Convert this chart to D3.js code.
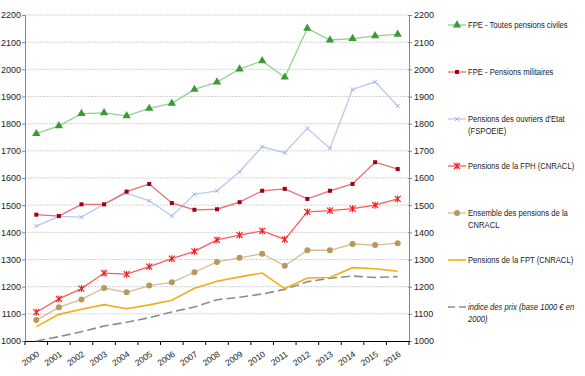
<!DOCTYPE html>
<html>
<head>
<meta charset="utf-8">
<script src="https://cdn.jsdelivr.net/npm/d3@7"></script>
<style>
  body { margin: 0; background: #fff; }
  svg { display: block; }
  text { font-family: "Liberation Sans", Arial, sans-serif; fill: #222; }
</style>
</head>
<body>
<svg width="585" height="376"></svg>
<script>
var years = ["2000","2001","2002","2003","2004","2005","2006","2007","2008",
             "2009","2010","2011","2012","2013","2014","2015","2016"];
var yTicks = [1000,1100,1200,1300,1400,1500,1600,1700,1800,1900,2000,2100,2200];

var fpeCiviles   = [1763,1792,1837,1840,1829,1856,1875,1926,1953,2001,2031,1971,2151,2108,2113,2123,2129];
var fpeMilitaires= [1465,1460,1503,1503,1550,1578,1508,1483,1485,1511,1553,1560,1523,1553,1578,1658,1633];
var ouvriers     = [1423,1459,1456,1504,1544,1516,1460,1540,1553,1623,1715,1693,1783,1709,1926,1954,1865];
var fph          = [1106,1155,1193,1250,1246,1274,1303,1330,1372,1390,1405,1374,1475,1480,1487,1500,1523];
var cnracl       = [1077,1124,1153,1195,1179,1204,1216,1253,1291,1306,1321,1277,1334,1334,1357,1353,1360];
var fpt          = [1053,1098,1117,1134,1119,1133,1150,1194,1220,1236,1250,1193,1232,1234,1270,1266,1257];
var indicePrix   = [1000,1016,1034,1055,1069,1086,1107,1125,1152,1161,1173,1190,1218,1231,1239,1234,1237];

var series = [
  {name: ["FPE - Toutes pensions civiles"], values: fpeCiviles, line: "#8fd48a", mark: "#3c9a34", marker: "triangle", ly: 25},
  {name: ["FPE - Pensions militaires"], values: fpeMilitaires, line: "#e0707a", mark: "#a00010", marker: "square", ly: 72},
  {name: ["Pensions des ouvriers d'Etat", "(FSPOEIE)"], values: ouvriers, line: "#b8c8f2", mark: "#9fb4ea", marker: "cross", ly: 119},
  {name: ["Pensions de la FPH (CNRACL)"], values: fph, line: "#ff5c5c", mark: "#f01818", marker: "star", ly: 166},
  {name: ["Ensemble des pensions de la", "CNRACL"], values: cnracl, line: "#d4bc98", mark: "#b8985c", marker: "circle", ly: 213},
  {name: ["Pensions de la FPT (CNRACL)"], values: fpt, line: "#f2ac1a", mark: null, marker: null, ly: 260},
  {name: ["indice des prix (base 1000 \u20ac en", "2000)"], values: indicePrix, line: "#8c8c8c", mark: null, marker: null, ly: 307, dash: "9,4", italic: true}
];

var svg = d3.select("svg");
var plotLeft = 25, plotRight = 409, plotTop = 15, plotBottom = 341;

var x = d3.scaleBand().domain(years).range([plotLeft, plotRight]);
var y = d3.scaleLinear().domain([1000, 2200]).range([plotBottom, plotTop]);
var cx = function(i) { return x(years[i]) + x.bandwidth() / 2; };

// grid
svg.append("g").selectAll("line")
  .data(yTicks.slice(1))
  .enter().append("line")
  .attr("x1", plotLeft).attr("x2", plotRight)
  .attr("y1", function(d) { return y(d); }).attr("y2", function(d) { return y(d); })
  .attr("stroke", "#d2d2d2").attr("stroke-width", 1).attr("stroke-dasharray", "2,1");

// left axis
var yl = svg.append("g").attr("transform", "translate(" + plotLeft + ",0)")
  .call(d3.axisLeft(y).tickValues(yTicks).tickSize(3).tickFormat(d3.format("d")));
yl.select(".domain").attr("stroke", "#888");
yl.selectAll(".tick line").attr("stroke", "#888");
yl.selectAll("text").attr("font-size", 9).attr("x", -4).attr("fill", "#222");

// right axis
var yr = svg.append("g").attr("transform", "translate(" + plotRight + ",0)")
  .call(d3.axisRight(y).tickValues(yTicks).tickSize(3).tickFormat(d3.format("d")));
yr.select(".domain").attr("stroke", "#888");
yr.selectAll(".tick line").attr("stroke", "#888").attr("x1", -1);
yr.selectAll("text").attr("font-size", 9).attr("x", 5).attr("fill", "#222");

// x axis
var xa = svg.append("g").attr("transform", "translate(0," + plotBottom + ")")
  .call(d3.axisBottom(x).tickSize(0).tickSizeOuter(0));
xa.select(".domain").attr("stroke", "#000").attr("stroke-width", 1.2);
xa.selectAll("text").attr("font-size", 8.5).attr("fill", "#222")
  .attr("text-anchor", "end")
  .attr("transform", "translate(2,12) rotate(-35)")
  .attr("dy", "0.35em").attr("y", 0);
// ticks at band boundaries
xa.selectAll(".sep").data(years.concat(["end"]))
  .enter().append("line").attr("class", "sep")
  .attr("x1", function(d, i) { return plotLeft + i * x.step(); })
  .attr("x2", function(d, i) { return plotLeft + i * x.step(); })
  .attr("y1", 0).attr("y2", 4).attr("stroke", "#000");

var lineGen = d3.line().x(function(d, i) { return cx(i); }).y(function(d) { return y(d); });

function drawMarker(g, type, color, px, py) {
  if (type === "triangle") {
    g.append("path").attr("d", d3.symbol().type(d3.symbolTriangle).size(30)())
      .attr("transform", "translate(" + px + "," + py + ")").attr("fill", color);
  } else if (type === "square") {
    g.append("rect").attr("x", px - 2).attr("y", py - 2).attr("width", 4).attr("height", 4).attr("fill", color);
  } else if (type === "circle") {
    g.append("circle").attr("cx", px).attr("cy", py).attr("r", 3).attr("fill", color);
  } else if (type === "cross") {
    g.append("path").attr("d", "M-2,-2L2,2M-2,2L2,-2")
      .attr("transform", "translate(" + px + "," + py + ")").attr("stroke", color).attr("stroke-width", 1).attr("fill", "none");
  } else if (type === "star") {
    g.append("path").attr("d", "M-3,-3L3,3M-3,3L3,-3M0,-3.5L0,3.5")
      .attr("transform", "translate(" + px + "," + py + ")").attr("stroke", color).attr("stroke-width", 1.1).attr("fill", "none");
  }
}

// draw series in reverse so that top series sits above
series.slice().reverse().forEach(function(s) {
  var g = svg.append("g");
  g.append("path").datum(s.values)
    .attr("d", lineGen)
    .attr("fill", "none")
    .attr("stroke", s.line)
    .attr("stroke-width", s.marker ? 1.3 : 1.6)
    .attr("stroke-dasharray", s.dash || null);
  if (s.marker) {
    s.values.forEach(function(v, i) { drawMarker(g, s.marker, s.mark, cx(i), y(v)); });
  }
});

// legend
var lx0 = 448, lx1 = 466;
series.forEach(function(s) {
  var g = svg.append("g");
  g.append("line").attr("x1", lx0).attr("x2", lx1).attr("y1", s.ly).attr("y2", s.ly)
    .attr("stroke", s.line).attr("stroke-width", s.marker ? 1.3 : 1.6)
    .attr("stroke-dasharray", s.dash ? "7,4" : null);
  if (s.marker) drawMarker(g, s.marker, s.mark, (lx0 + lx1) / 2, s.ly);
  s.name.forEach(function(t, k) {
    g.append("text")
      .attr("transform", "translate(468," + (s.ly + k * 11.5) + ") scale(0.85,1)")
      .attr("dy", "0.35em").attr("font-size", 9)
      .style("font-style", s.italic ? "italic" : null)
      .text(t);
  });
});
</script>
</body>
</html>
